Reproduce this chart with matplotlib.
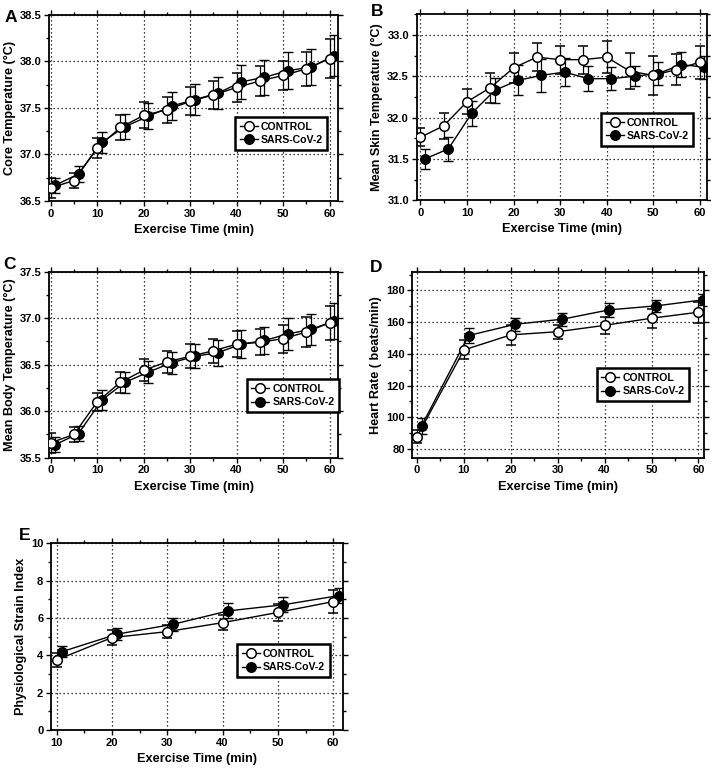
import numpy as np
import matplotlib
matplotlib.use("Agg")
import matplotlib.pyplot as plt
from matplotlib.legend_handler import HandlerLine2D
from matplotlib.lines import Line2D
from matplotlib.ticker import MultipleLocator

plt.rcParams['font.family'] = ['Liberation Sans', 'DejaVu Sans']
plt.rcParams['font.weight'] = 'bold'

# ---------------- data ----------------
t13 = [0, 5, 10, 15, 20, 25, 30, 35, 40, 45, 50, 55, 60]
t7 = [0, 10, 20, 30, 40, 50, 60]
t6 = [10, 20, 30, 40, 50, 60]

core_ctrl = [36.64, 36.72, 37.07, 37.29, 37.42, 37.48, 37.57, 37.64, 37.72, 37.79, 37.85, 37.92, 38.03]
core_ctrl_sd = [0.11, 0.08, 0.11, 0.13, 0.14, 0.14, 0.15, 0.15, 0.16, 0.16, 0.16, 0.18, 0.21]
core_cov = [36.67, 36.79, 37.13, 37.30, 37.41, 37.52, 37.59, 37.66, 37.78, 37.83, 37.90, 37.94, 38.06]
core_cov_sd = [0.08, 0.09, 0.11, 0.13, 0.14, 0.15, 0.17, 0.17, 0.18, 0.19, 0.20, 0.19, 0.22]

skin_ctrl = [31.76, 31.90, 32.19, 32.36, 32.60, 32.73, 32.70, 32.70, 32.73, 32.56, 32.51, 32.58, 32.67]
skin_ctrl_sd = [0.11, 0.16, 0.15, 0.18, 0.18, 0.17, 0.17, 0.17, 0.19, 0.22, 0.24, 0.19, 0.20]
skin_cov = [31.50, 31.62, 32.05, 32.33, 32.45, 32.51, 32.55, 32.47, 32.47, 32.50, 32.53, 32.64, 32.61]
skin_cov_sd = [0.12, 0.15, 0.15, 0.15, 0.18, 0.20, 0.17, 0.15, 0.14, 0.12, 0.14, 0.15, 0.14]

body_ctrl = [35.66, 35.75, 36.10, 36.31, 36.44, 36.53, 36.59, 36.65, 36.72, 36.74, 36.78, 36.85, 36.95]
body_ctrl_sd = [0.11, 0.08, 0.10, 0.11, 0.12, 0.12, 0.13, 0.13, 0.14, 0.14, 0.15, 0.16, 0.18]
body_cov = [35.64, 35.76, 36.12, 36.31, 36.42, 36.52, 36.59, 36.63, 36.72, 36.76, 36.83, 36.88, 36.97]
body_cov_sd = [0.08, 0.08, 0.11, 0.11, 0.12, 0.12, 0.13, 0.14, 0.15, 0.15, 0.17, 0.17, 0.19]

hr_ctrl = [87.8, 142.5, 152.0, 154.0, 158.0, 162.5, 166.3]
hr_ctrl_sd = [4.0, 6.0, 6.5, 4.5, 5.5, 6.0, 6.5]
hr_cov = [94.7, 151.6, 158.7, 161.9, 167.8, 170.3, 174.1]
hr_cov_sd = [5.0, 5.0, 4.0, 4.0, 4.5, 4.0, 3.5]

psi_ctrl = [3.75, 4.95, 5.27, 5.75, 6.30, 6.88]
psi_ctrl_sd = [0.35, 0.40, 0.35, 0.40, 0.45, 0.60]
psi_cov = [4.20, 5.14, 5.66, 6.38, 6.71, 7.20]
psi_cov_sd = [0.30, 0.30, 0.35, 0.40, 0.40, 0.40]

labels = ["CONTROL", "SARS-CoV-2"]
xlabel = "Exercise Time (min)"


class RightMarker(HandlerLine2D):
    def get_xdata(self, legend, xdescent, ydescent, width, height, fontsize):
        xdata = np.array([-xdescent, -xdescent + width])
        return xdata, np.array([-xdescent + width * 0.7])


fig = plt.figure(figsize=(7.11, 7.70), dpi=100)
MS = 6.9


def panel(rect, x_ctrl, yc, ycsd, yv, yvsd, ylabel, xlim, ylim, ymaj, ymin, leg_anchor, letter, letter_xy):
    ax = fig.add_axes(rect)
    x_ctrl = np.array(x_ctrl)
    x_cov = x_ctrl + 1
    ax.errorbar(x_cov, yv, yerr=yvsd, fmt='-o', color='black', mfc='black', mec='black',
                ms=MS, lw=1.0, mew=1.0, capsize=3.3, elinewidth=0.9, capthick=0.9,
                ecolor='black', zorder=3)
    ax.errorbar(x_ctrl, yc, yerr=ycsd, fmt='-o', color='black', mfc='white', mec='black',
                ms=MS, lw=1.0, mew=1.1, capsize=3.3, elinewidth=0.9, capthick=0.9,
                ecolor='black', zorder=4)
    ax.set_xlim(*xlim)
    ax.set_ylim(*ylim)
    ax.xaxis.set_major_locator(MultipleLocator(10))
    ax.xaxis.set_minor_locator(MultipleLocator(5))
    ax.yaxis.set_major_locator(MultipleLocator(ymaj))
    ax.yaxis.set_minor_locator(MultipleLocator(ymin))
    ax.grid(True, which='major', linestyle=(0, (1, 2.2)), color='black', lw=0.9)
    ax.set_axisbelow(True)
    for s in ax.spines.values():
        s.set_linewidth(1.3)
    ax.tick_params(which='both', direction='out', top=True, right=True, width=1.0,
                   labelsize=8.0, pad=2)
    ax.tick_params(which='major', length=3.5)
    ax.tick_params(which='minor', length=2.5)
    for lab in ax.get_xticklabels() + ax.get_yticklabels():
        lab.set_fontweight('bold')
    ax.set_xlabel(xlabel, fontsize=9.2, fontweight='bold', labelpad=4)
    ax.set_ylabel(ylabel, fontsize=9.1, fontweight='bold', labelpad=3)
    hc = Line2D([], [], color='black', lw=1.0, marker='o', ms=MS, mfc='white', mec='black', mew=1.1)
    hv = Line2D([], [], color='black', lw=1.0, marker='o', ms=MS, mfc='black', mec='black', mew=1.0)
    leg = ax.legend([hc, hv], labels, loc='upper left', bbox_to_anchor=leg_anchor,
                    handler_map={Line2D: RightMarker(numpoints=1)},
                    fancybox=False, edgecolor='black', framealpha=1,
                    prop=dict(weight='bold', size=7.6), handlelength=1.7,
                    handletextpad=0.3, borderpad=0.45, labelspacing=0.3,
                    borderaxespad=0)
    leg.get_frame().set_linewidth(1.8)
    leg.set_zorder(10)
    fig.text(letter_xy[0], letter_xy[1], letter, fontsize=12.5, fontweight='bold',
             ha='left', va='center')
    return ax


panel([0.0693, 0.739, 0.406, 0.2416], t13, core_ctrl, core_ctrl_sd, core_cov, core_cov_sd,
      "Core Temperature (\u00b0C)", (-0.3, 61.8), (36.5, 38.5), 0.5, 0.25,
      (0.643, 0.452), "A", (5 / 711, 1 - 17 / 770))
panel([0.586, 0.740, 0.4087, 0.2416], t13, skin_ctrl, skin_ctrl_sd, skin_cov, skin_cov_sd,
      "Mean Skin Temperature (\u00b0C)", (-0.8, 61.6), (31.0, 33.25), 0.5, 0.25,
      (0.634, 0.468), "B", (371 / 711, 1 - 12 / 770))
panel([0.0693, 0.4056, 0.406, 0.2416], t13, body_ctrl, body_ctrl_sd, body_cov, body_cov_sd,
      "Mean Body Temperature (\u00b0C)", (-0.3, 61.8), (35.5, 37.5), 0.5, 0.25,
      (0.684, 0.421), "C", (3 / 711, 1 - 265 / 770))
panel([0.5799, 0.4056, 0.4103, 0.2408], t7, hr_ctrl, hr_ctrl_sd, hr_cov, hr_cov_sd,
      "Heart Rate ( beats/min)", (-1.0, 61.2), (74.5, 191.5), 20, 10,
      (0.632, 0.482), "D", (370 / 711, 1 - 268 / 770))
panel([0.0717, 0.0519, 0.4111, 0.2425], t6, psi_ctrl, psi_ctrl_sd, psi_cov, psi_cov_sd,
      "Physiological Strain Index", (9.0, 61.8), (0, 10), 2, 1,
      (0.637, 0.459), "E", (19 / 711, 1 - 536 / 770))

fig.savefig("out.png", dpi=100)
